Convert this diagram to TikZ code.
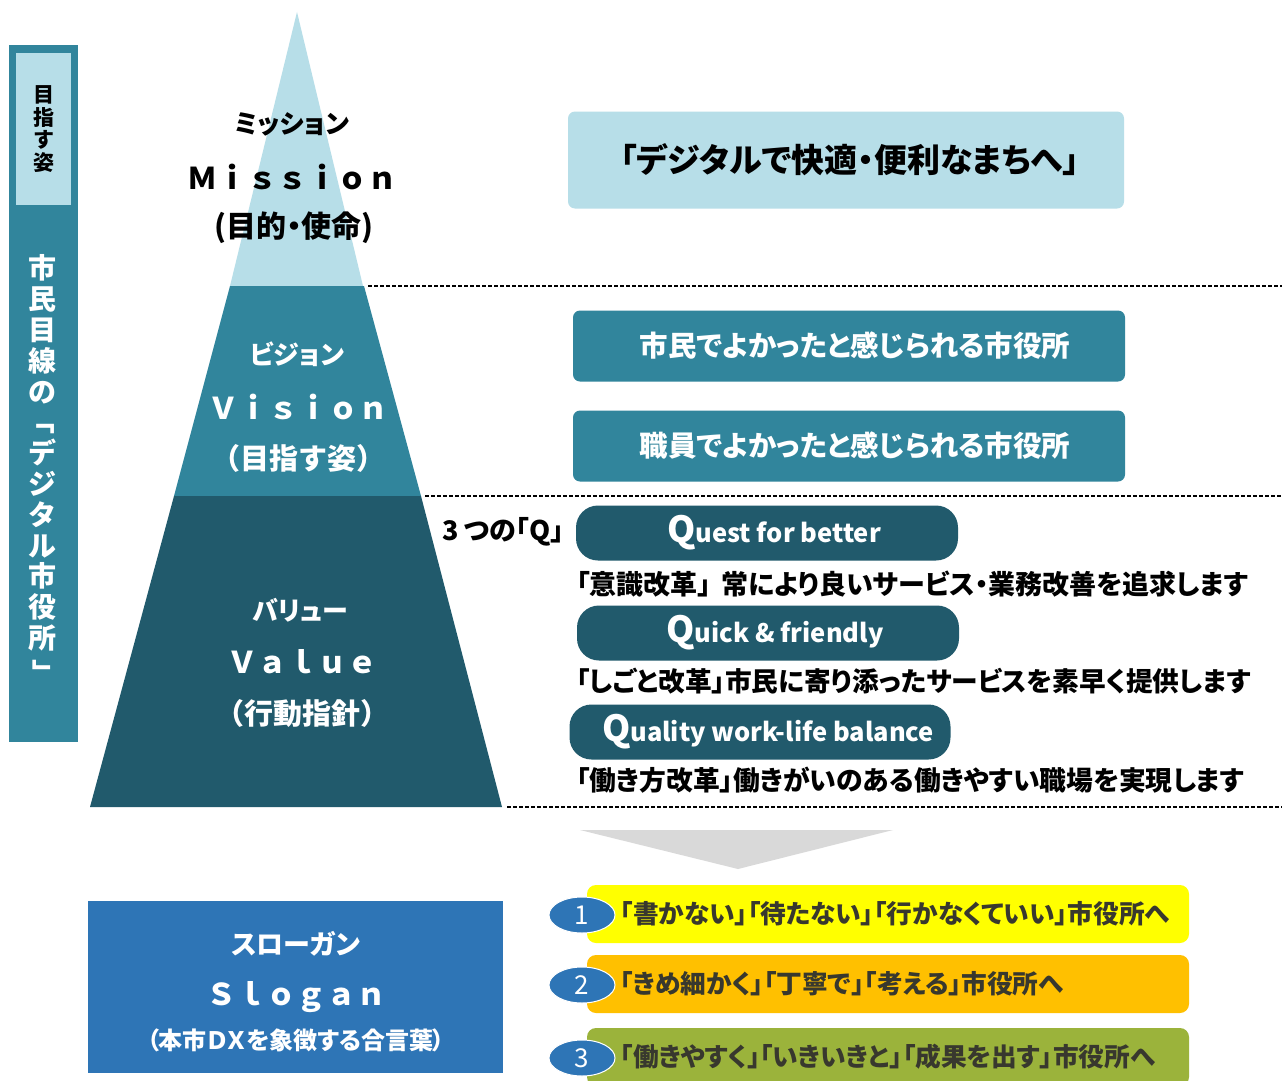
\documentclass[tikz,border=0pt]{standalone}
\usepackage{fontspec}
\usepackage{graphicx}
\setmainfont{Noto Sans CJK JP}
\newfontfamily\jpnarrow{Noto Sans CJK JP}[RawFeature=+palt]
\usepackage{tikz}
\usetikzlibrary{shapes.geometric}
\definecolor{palecyan}{HTML}{B7DEE8}
\definecolor{visionteal}{HTML}{31859C}
\definecolor{valueteal}{HTML}{215A6C}
\definecolor{sloganblue}{HTML}{2E75B6}
\definecolor{arrowgray}{HTML}{D9D9D9}
\definecolor{itemyellow}{HTML}{FFFF00}
\definecolor{itemorange}{HTML}{FFC000}
\definecolor{itemgreen}{HTML}{9BB33B}
\definecolor{itemtext}{HTML}{38382E}
\newcommand{\vopen}{\rotatebox[origin=c]{-90}{「}}
\newcommand{\vclose}{\rotatebox[origin=c]{-90}{」}}
\tikzstyle{dashline} = [line width=1.2pt,dash pattern=on 4pt off 2pt]
\tikzstyle{layerlabel} = [inner sep=0pt,font=\bfseries\jpnarrow]
\tikzstyle{widebox} = [rounded corners=7pt,minimum width=552pt,minimum height=71pt,inner sep=0pt]
\tikzstyle{qbox} = [fill=valueteal,rounded corners=22pt,minimum width=382pt,minimum height=55pt,inner sep=0pt,text=white]
\tikzstyle{qtext} = [anchor=west,inner sep=0pt,font=\bfseries\jpnarrow\fontsize{27}{27}\selectfont]
\tikzstyle{itembox} = [rounded corners=9pt,minimum width=602pt,minimum height=58pt,inner sep=0pt]
\tikzstyle{itemnum} = [ellipse,fill=sloganblue,draw=white,line width=1pt,minimum width=66pt,minimum height=36pt,inner sep=0pt,text=white,font=\fontsize{26}{26}\selectfont]

\begin{document}
\begin{tikzpicture}[x=1pt,y=-1pt]
\useasboundingbox (0,0) rectangle (1282,1081);
\fill[white] (0,0) rectangle (1282,1081);

\fill[visionteal] (9,45) rectangle (78,742);
\node[fill=palecyan,minimum width=55pt,minimum height=152pt,inner sep=0pt] (goalbox) at (43.5,129) {};
\node[layerlabel,align=center,font=\bfseries\fontsize{21}{22.5}\selectfont] (goaltext) at (goalbox) {目\\指\\す\\姿};
\node[layerlabel,align=center,text=white,font=\bfseries\fontsize{28}{30.8}\selectfont] (sidetext) at (42,471) {市\\民\\目\\線\\の\\\vopen\\デ\\ジ\\タ\\ル\\市\\役\\所\\\vclose};

\fill[palecyan] (297,12) -- (363,286) -- (230,286) -- cycle;
\fill[visionteal] (230,286) -- (364,286) -- (421,496) -- (174,496) -- cycle;
\fill[valueteal] (174,496) -- (421,496) -- (502,807) -- (90,807) -- cycle;

\draw[dashline] (368,286) -- (1282,286);
\draw[dashline] (425,496) -- (1282,496);
\draw[dashline] (507,807) -- (1282,807);

\node[layerlabel,font=\bfseries\jpnarrow\fontsize{26}{26}\selectfont] (missionjp) at (292,124) {ミッション};
\node[layerlabel,font=\bfseries\fontsize{30}{30}\selectfont] (missionen) at (292,177) {Ｍｉｓｓｉｏｎ};
\node[layerlabel,font=\bfseries\jpnarrow\fontsize{30}{30}\selectfont] (missionsub) at (294,228) {(目的・使命)};

\node[layerlabel,text=white,font=\bfseries\jpnarrow\fontsize{26}{26}\selectfont] (visionjp) at (297,354) {ビジョン};
\node[layerlabel,text=white,font=\bfseries\fontsize{30}{30}\selectfont] (visionen) at (298,407) {Ｖｉｓｉｏｎ};
\node[layerlabel,text=white,font=\bfseries\fontsize{29}{29}\selectfont] (visionsub) at (298,458) {（目指す姿）};

\node[layerlabel,text=white,font=\bfseries\jpnarrow\fontsize{26}{26}\selectfont] (valuejp) at (300,610) {バリュー};
\node[layerlabel,text=white,font=\bfseries\fontsize{30}{30}\selectfont] (valueen) at (302,662) {Ｖａｌｕｅ};
\node[layerlabel,text=white,font=\bfseries\fontsize{29}{29}\selectfont] (valuesub) at (302,713) {（行動指針）};

\node[widebox,fill=palecyan,minimum width=556pt,minimum height=97pt,font=\bfseries\jpnarrow\fontsize{33}{33}\selectfont] (mission) at (846,160) {\hspace{8pt}「デジタルで快適・便利なまちへ」};
\node[widebox,fill=visionteal,text=white,font=\bfseries\jpnarrow\fontsize{28.5}{28.5}\selectfont] (vision1) at (849,346) {\hspace{12pt}市民でよかったと感じられる市役所};
\node[widebox,fill=visionteal,text=white,font=\bfseries\jpnarrow\fontsize{28.5}{28.5}\selectfont] (vision2) at (849,446) {\hspace{12pt}職員でよかったと感じられる市役所};

\node[layerlabel,font=\bfseries\jpnarrow\fontsize{27}{27}\selectfont] (threeq) at (503,532) {3\hspace{5pt}つの「Q」};
\node[qbox] (q1) at (767,533) {\bfseries\hspace{14pt}{\fontsize{36}{36}\selectfont Q}{\fontsize{25.5}{25.5}\selectfont uest for better}};
\node[qbox] (q2) at (768,633) {\bfseries\hspace{14pt}{\fontsize{36}{36}\selectfont Q}{\fontsize{25.5}{25.5}\selectfont uick \& friendly}};
\node[qbox,minimum width=381pt] (q3) at (760,732) {\bfseries\hspace{16pt}{\fontsize{36}{36}\selectfont Q}{\fontsize{25.5}{25.5}\selectfont uality work-life balance}};
\node[qtext] (q1text) at (576,584) {「意識改革」\hspace{10pt}常により良いサービス・業務改善を追求します};
\node[qtext,font=\bfseries\jpnarrow\fontsize{26.7}{26.7}\selectfont] (q2text) at (576,681) {「しごと改革」市民に寄り添ったサービスを素早く提供します};
\node[qtext,font=\bfseries\jpnarrow\fontsize{26.8}{26.8}\selectfont] (q3text) at (576,780) {「働き方改革」働きがいのある働きやすい職場を実現します};

\fill[arrowgray] (580,830) -- (893,830) -- (738,869) -- cycle;

\node[fill=sloganblue,minimum width=415pt,minimum height=172pt,inner sep=0pt] (slogan) at (295.5,987) {};
\node[layerlabel,text=white,font=\bfseries\jpnarrow\fontsize{27}{27}\selectfont] (sloganjp) at (296,944) {スローガン};
\node[layerlabel,text=white,font=\bfseries\fontsize{30}{30}\selectfont] (sloganen) at (296,997) {Ｓｌｏｇａｎ};
\node[layerlabel,text=white,font=\bfseries\jpnarrow\fontsize{24}{24}\selectfont] (slogansub) at (296,1040) {（本市ＤＸを象徴する合言葉）};

\foreach \n/\yy/\col/\txt in {1/914/itemyellow/{「書かない」「待たない」「行かなくていい」市役所へ},
  2/984/itemorange/{「きめ細かく」「丁寧で」「考える」市役所へ},
  3/1057/itemgreen/{「働きやすく」「いきいきと」「成果を出す」市役所へ}}
{
  \node[itembox,fill=\col] (item\n) at (888,\yy) {};
  \node[qtext,text=itemtext,font=\bfseries\jpnarrow\fontsize{25.7}{25.7}\selectfont] (itemtext\n) at (620,\yy) {\txt};
  \node[itemnum] (num\n) at (582,\yy+1) {\n};
}

\end{tikzpicture}
\end{document}
